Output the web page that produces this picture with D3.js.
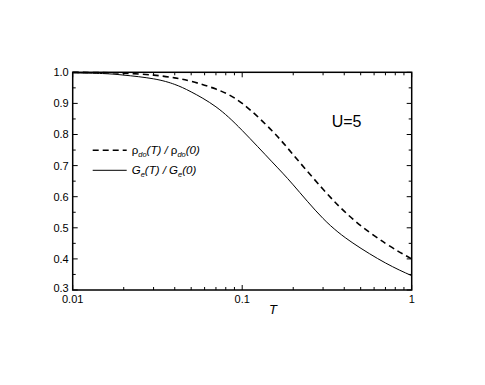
<!DOCTYPE html>
<html>
<head>
<meta charset="utf-8">
<script src="https://cdn.jsdelivr.net/npm/d3@7"></script>
<style>
  body { margin: 0; background: #fff; }
  svg text { font-family: Arial, "Liberation Sans", sans-serif; fill: #000; }
</style>
</head>
<body>
<div id="chart"></div>
<script>
// temperatures (log axis)
let temps = [0.01, 0.015, 0.02, 0.03, 0.04, 0.05, 0.07, 0.1, 0.15, 0.2, 0.3, 0.45, 0.7, 1.0];
// rho_do(T)/rho_do(0), dashed
let rhoRatio = [1.0, 0.999, 0.997, 0.991, 0.982, 0.971, 0.946, 0.900, 0.812, 0.735, 0.624, 0.528, 0.450, 0.400];
// G_e(T)/G_e(0), solid
let gRatio = [0.998, 0.996, 0.991, 0.979, 0.961, 0.937, 0.889, 0.813, 0.712, 0.638, 0.530, 0.451, 0.387, 0.346];

let yTicks = [0.3, 0.4, 0.5, 0.6, 0.7, 0.8, 0.9, 1.0];
let xTicks = [0.01, 0.1, 1];

let svgWidth = 485, svgHeight = 385;
let margin = { top: 72.3, right: 73.3, bottom: 95, left: 72.7 };

let svg = d3.select("#chart").append("svg")
  .attr("width", svgWidth)
  .attr("height", svgHeight);

let width = svgWidth - margin.left - margin.right,
    height = svgHeight - margin.top - margin.bottom;

let g = svg.append("g").attr("transform", `translate(${margin.left},${margin.top})`);

let x = d3.scaleLog().domain([0.01, 1]).range([0, width]);
let y = d3.scaleLinear().domain([0.3, 1.0]).range([height, 0]);

// minor ticks
let xMinor = [];
[0.01, 0.1].forEach(d => { for (let k = 2; k <= 9; k++) xMinor.push(d * k); });
let yMinor = yTicks.slice(0, -1).map(v => v + 0.05);

let tickG = g.append("g").attr("stroke", "#000").attr("stroke-width", 1);
// bottom + top
xTicks.forEach(v => {
  tickG.append("line").attr("x1", x(v)).attr("x2", x(v)).attr("y1", height).attr("y2", height - 5);
  tickG.append("line").attr("x1", x(v)).attr("x2", x(v)).attr("y1", 0).attr("y2", 5);
});
xMinor.forEach(v => {
  tickG.append("line").attr("x1", x(v)).attr("x2", x(v)).attr("y1", height).attr("y2", height - 3);
  tickG.append("line").attr("x1", x(v)).attr("x2", x(v)).attr("y1", 0).attr("y2", 3);
});
// left + right
yTicks.forEach(v => {
  tickG.append("line").attr("x1", 0).attr("x2", 5).attr("y1", y(v)).attr("y2", y(v));
  tickG.append("line").attr("x1", width).attr("x2", width - 5).attr("y1", y(v)).attr("y2", y(v));
});
yMinor.forEach(v => {
  tickG.append("line").attr("x1", 0).attr("x2", 3).attr("y1", y(v)).attr("y2", y(v));
  tickG.append("line").attr("x1", width).attr("x2", width - 3).attr("y1", y(v)).attr("y2", y(v));
});

// frame
g.append("rect")
  .attr("width", width).attr("height", height)
  .attr("fill", "none").attr("stroke", "#000").attr("stroke-width", 1.5);

// tick labels
g.selectAll(".ylab").data(yTicks).enter().append("text")
  .attr("x", -4).attr("y", d => y(d) + (d === 0.3 ? 2 : 4))
  .attr("text-anchor", "end").attr("font-size", 11)
  .text(d => d3.format(".1f")(d));

g.selectAll(".xlab").data(xTicks).enter().append("text")
  .attr("x", d => x(d)).attr("y", height + 13)
  .attr("text-anchor", "middle").attr("font-size", 11)
  .text(d => d === 1 ? "1" : String(d));

g.append("text")
  .attr("x", x(0.152)).attr("y", height + 24)
  .attr("text-anchor", "middle").attr("font-size", 13).attr("font-style", "italic")
  .text("T");

// curves
let line = d3.line()
  .x(d => x(d[0]))
  .y(d => y(d[1]))
  .curve(d3.curveNatural);

g.append("path")
  .datum(temps.map((t, i) => [t, rhoRatio[i]]))
  .attr("d", line)
  .attr("fill", "none").attr("stroke", "#000")
  .attr("stroke-width", 1.6).attr("stroke-dasharray", "6,4");

g.append("path")
  .datum(temps.map((t, i) => [t, gRatio[i]]))
  .attr("d", line)
  .attr("fill", "none").attr("stroke", "#000")
  .attr("stroke-width", 1);

// legend
let leg = g.append("g").attr("transform", "translate(20,78)");
leg.append("line").attr("x1", 0).attr("x2", 34).attr("y1", 0).attr("y2", 0)
  .attr("stroke", "#000").attr("stroke-width", 1.6).attr("stroke-dasharray", "6,4");
leg.append("line").attr("x1", 0).attr("x2", 34).attr("y1", 20).attr("y2", 20)
  .attr("stroke", "#000").attr("stroke-width", 1);

let t1 = leg.append("text").attr("x", 39).attr("y", 4).attr("font-size", 11.5).attr("font-style", "italic");
t1.append("tspan").attr("font-style", "normal").text("ρ");
t1.append("tspan").attr("font-size", 7.5).attr("dy", 3).text("do");
t1.append("tspan").attr("dy", -3).text("(T) / ");
t1.append("tspan").attr("font-style", "normal").text("ρ");
t1.append("tspan").attr("font-size", 7.5).attr("dy", 3).text("do");
t1.append("tspan").attr("dy", -3).text("(0)");

let t2 = leg.append("text").attr("x", 39).attr("y", 24).attr("font-size", 11.5).attr("font-style", "italic");
t2.append("tspan").text("G");
t2.append("tspan").attr("font-size", 7.5).attr("dy", 3).text("e");
t2.append("tspan").attr("dy", -3).text("(T) / G");
t2.append("tspan").attr("font-size", 7.5).attr("dy", 3).text("e");
t2.append("tspan").attr("dy", -3).text("(0)");

g.append("text")
  .attr("x", 259).attr("y", 55)
  .attr("font-size", 16)
  .text("U=5");
</script>
</body>
</html>
